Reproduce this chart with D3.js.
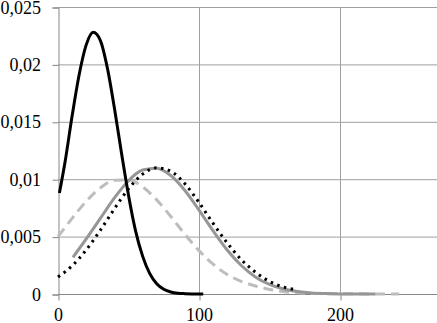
<!DOCTYPE html>
<html><head><meta charset="utf-8">
<script src="https://cdn.jsdelivr.net/npm/d3@7"></script>
<style>text.lbl{font:18px "Times New Roman","Liberation Serif",Tinos,serif}</style>
</head><body style="margin:0">
<script>
// Data
const xTicks = [0, 100, 200];
const yTicks = [0, 0.005, 0.01, 0.015, 0.02, 0.025];
const yTickLabels = ["0", "0,005", "0,01", "0,015", "0,02", "0,025"];

const blackX = [1, 5, 10, 15, 20, 25, 30, 35, 40, 45, 50, 55, 60, 65, 70, 75, 80, 85, 90, 95, 100, 103];
const blackY = [0.0088, 0.0115, 0.0155, 0.0191, 0.0217, 0.0228, 0.0221, 0.0197, 0.0162, 0.0123, 0.0086, 0.0055, 0.0033, 0.0018, 0.0009, 0.00042, 0.00018, 0.00007, 0.00003, 0.00001, 0, 0];

const graySolidX = [10.6, 20, 30, 40, 50, 60, 70, 80, 90, 100, 110, 120, 130, 140, 150, 160, 170, 180, 190, 200, 210, 225];
const graySolidY = [0.00320, 0.00480, 0.00658, 0.00837, 0.00987, 0.01080, 0.01096, 0.01032, 0.00902, 0.00731, 0.00550, 0.00383, 0.00248, 0.00149, 0.00083, 0.00043, 0.00021, 0.00009, 0.00004, 0.00001, 0, 0];

const dottedX = [0, 10, 20, 30, 40, 50, 60, 70, 80, 90, 100, 110, 120, 130, 140, 150, 160, 167];
const dottedY = [0.00148, 0.00245, 0.00384, 0.00555, 0.00742, 0.00916, 0.01044, 0.01099, 0.01069, 0.00960, 0.00797, 0.00615, 0.00445, 0.00300, 0.00190, 0.00110, 0.00060, 0.00040];

const dashedX = [0, 10, 20, 30, 40, 50, 60, 70, 80, 90, 100, 110, 120, 130, 140, 150, 160, 170, 180, 200, 220, 242];
const dashedY = [0.00500, 0.00659, 0.00807, 0.00924, 0.00990, 0.00993, 0.00933, 0.00820, 0.00675, 0.00520, 0.00378, 0.00260, 0.00170, 0.00110, 0.00070, 0.00040, 0.00020, 0.00010, 0.00005, 0.00002, 0.00001, 0];

const W = 437, H = 323;
const svg = d3.select("body").append("svg").attr("width", W).attr("height", H).style("display", "block")
  .attr("font-family", "Times New Roman");
const x = d3.scaleLinear().domain([0, 269]).range([58, 437.3]);
const y = d3.scaleLinear().domain([0, 0.025]).range([294, 7]);

// gridlines
svg.append("g").selectAll("line").data(yTicks.slice(1)).join("line")
  .attr("x1", x(0)).attr("x2", W).attr("y1", d => y(d) + 0.5).attr("y2", d => y(d) + 0.5)
  .attr("stroke", "#a0a0a0").attr("stroke-width", 1);
svg.append("g").selectAll("line").data(xTicks.slice(1)).join("line")
  .attr("y1", y(0.025)).attr("y2", y(0)).attr("x1", d => x(d) + 0.5).attr("x2", d => x(d) + 0.5)
  .attr("stroke", "#a0a0a0").attr("stroke-width", 1);

// axes (lines and ticks from d3 axes; labels drawn below)
const gy = svg.append("g").attr("transform", `translate(${x(0) + 0.5},0.5)`)
  .call(d3.axisLeft(y).tickValues(yTicks).tickSize(6).tickFormat(""));
const gx = svg.append("g").attr("transform", `translate(0.5,${y(0) + 0.5})`)
  .call(d3.axisBottom(x).tickValues(xTicks).tickSize(6).tickFormat(""));
[gx, gy].forEach(g => {
  g.select(".domain").attr("stroke", "#868686");
  g.selectAll(".tick line").attr("stroke", "#868686");
});
gx.select(".domain").attr("d", `M${x(0)},0H${W}`);

// tick labels
svg.append("g").selectAll("text").data(yTicks).join("text").attr("class", "lbl")
  .attr("x", 41).attr("y", d => y(d) + 6.5).attr("text-anchor", "end")
  .attr("font-family", "Times New Roman").attr("font-size", 18).attr("fill", "#000")
  .text((d, i) => yTickLabels[i]);
svg.append("g").selectAll("text").data(xTicks).join("text").attr("class", "lbl")
  .attr("x", d => x(d) + 0.5).attr("y", 321).attr("text-anchor", "middle")
  .attr("font-family", "Times New Roman").attr("font-size", 18).attr("fill", "#000")
  .text(d => String(d));

const line = d3.line().x(d => x(d[0])).y(d => y(d[1])).curve(d3.curveMonotoneX);
const z = (a, b) => a.map((v, i) => [v, b[i]]);

svg.append("path").datum(z(dashedX, dashedY)).attr("d", line)
  .attr("fill", "none").attr("stroke", "#bdbdbd").attr("stroke-width", 3).attr("stroke-dasharray", "10,6");
svg.append("path").datum(z(graySolidX, graySolidY)).attr("d", line)
  .attr("fill", "none").attr("stroke", "#969696").attr("stroke-width", 3);
svg.append("path").datum(z(dottedX, dottedY)).attr("d", line)
  .attr("fill", "none").attr("stroke", "#000").attr("stroke-width", 3).attr("stroke-dasharray", "2.5,4.5");
svg.append("path").datum(z(blackX, blackY)).attr("d", line)
  .attr("fill", "none").attr("stroke", "#000").attr("stroke-width", 3).attr("stroke-linejoin", "round");
</script>
</body></html>
